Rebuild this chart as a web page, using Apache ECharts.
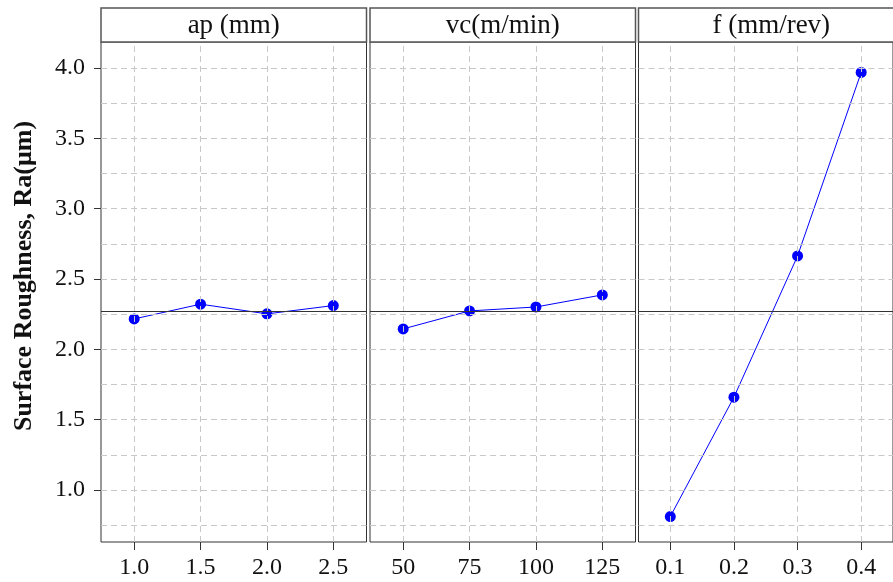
<!DOCTYPE html>
<html>
<head>
<meta charset="utf-8">
<script src="https://cdn.jsdelivr.net/npm/echarts@6/dist/echarts.min.js"></script>
<style>
  html, body { margin: 0; padding: 0; background: #fff; }
  #main { width: 893px; height: 582px; }
</style>
</head>
<body>
<div id="main"></div>
<script>
// 数据
var panelTitles = ['ap (mm)', 'vc(m/min)', 'f (mm/rev)'];
var apLevels = ['1.0', '1.5', '2.0', '2.5'];
var apMeans = [2.216, 2.321, 2.252, 2.311];
var vcLevels = ['50', '75', '100', '125'];
var vcMeans = [2.145, 2.273, 2.301, 2.387];
var fLevels = ['0.1', '0.2', '0.3', '0.4'];
var fMeans = [0.811, 1.660, 2.664, 3.969];
var grandMean = 2.275;
var yTickValues = [1.0, 1.5, 2.0, 2.5, 3.0, 3.5, 4.0];
var yGridValues = [0.75, 1.0, 1.25, 1.5, 1.75, 2.0, 2.25, 2.5, 2.75, 3.0, 3.25, 3.5, 3.75, 4.0];

var levels = [apLevels, vcLevels, fLevels];
var means = [apMeans, vcMeans, fMeans];

var font = '"Liberation Serif", "Times New Roman", serif';
var panelLeft = [101, 370, 638.5];
var panelWidth = 265.5;
var yMin = 0.63, yMax = 4.185;

var chart = echarts.init(document.getElementById('main'));

var grids = [], xAxes = [], yAxes = [], series = [], graphics = [];

for (var i = 0; i < 3; i++) {
    grids.push({
        left: panelLeft[i],
        top: 42,
        width: panelWidth,
        bottom: 40,
        show: true,
        borderColor: '#333',
        borderWidth: 1,
        backgroundColor: '#fff'
    });
    xAxes.push({
        type: 'category',
        gridIndex: i,
        data: levels[i],
        boundaryGap: true,
        axisLine: { show: false },
        axisTick: { show: true, alignWithLabel: true, length: 8, lineStyle: { color: '#333' } },
        axisLabel: { fontFamily: font, fontSize: 24, color: '#111', margin: 14 },
        splitLine: { show: false }
    });
    yAxes.push({
        type: 'value',
        gridIndex: i,
        min: yMin,
        max: yMax,
        axisLine: { show: false },
        axisTick: { show: i === 0, length: 7, customValues: yTickValues, lineStyle: { color: '#333' } },
        axisLabel: {
            show: i === 0, fontFamily: font, fontSize: 24, color: '#111', margin: 16,
            customValues: yTickValues,
            formatter: function (v) { return v.toFixed(1); }
        },
        splitLine: { show: false },
        name: i === 0 ? 'Surface Roughness, Ra(\u03bcm)' : '',
        nameLocation: 'middle',
        nameGap: 64,
        nameTextStyle: {
            fontFamily: font, fontSize: 26, fontWeight: 'bold', color: '#111',
            padding: [0, 0, 0, 32]
        }
    });

    // 网格线
    var gridLines = yGridValues.map(function (v) { return { yAxis: v }; })
        .concat(levels[i].map(function (c) { return { xAxis: c }; }));
    series.push({
        type: 'line',
        xAxisIndex: i,
        yAxisIndex: i,
        data: [],
        z: 1,
        silent: true,
        markLine: {
            silent: true,
            symbol: 'none',
            label: { show: false },
            lineStyle: { color: '#c8c8c8', type: [6, 4], width: 1 },
            data: gridLines
        }
    });
    // 总平均线
    series.push({
        type: 'line',
        xAxisIndex: i,
        yAxisIndex: i,
        data: [],
        z: 2,
        silent: true,
        markLine: {
            silent: true,
            symbol: 'none',
            label: { show: false },
            lineStyle: { color: '#333', type: 'solid', width: 1.2 },
            data: [{ yAxis: grandMean }]
        }
    });
    series.push({
        type: 'line',
        xAxisIndex: i,
        yAxisIndex: i,
        data: means[i],
        z: 3,
        symbol: 'circle',
        symbolSize: 11,
        itemStyle: { color: '#0000ff' },
        lineStyle: { color: '#0000ff', width: 1 }
    });

    // 分面标题
    graphics.push({
        type: 'rect',
        shape: { x: panelLeft[i], y: 8, width: panelWidth, height: 34 },
        style: { fill: '#fff', stroke: '#555', lineWidth: 1.5 }
    });
    graphics.push({
        type: 'text',
        x: panelLeft[i] + panelWidth / 2,
        y: 26,
        style: {
            text: panelTitles[i],
            font: '27px ' + font,
            fill: '#111',
            align: 'center',
            verticalAlign: 'middle'
        }
    });
}

var option = {
    animation: false,
    backgroundColor: '#fff',
    grid: grids,
    xAxis: xAxes,
    yAxis: yAxes,
    series: series,
    graphic: graphics
};

chart.setOption(option);
</script>
</body>
</html>
